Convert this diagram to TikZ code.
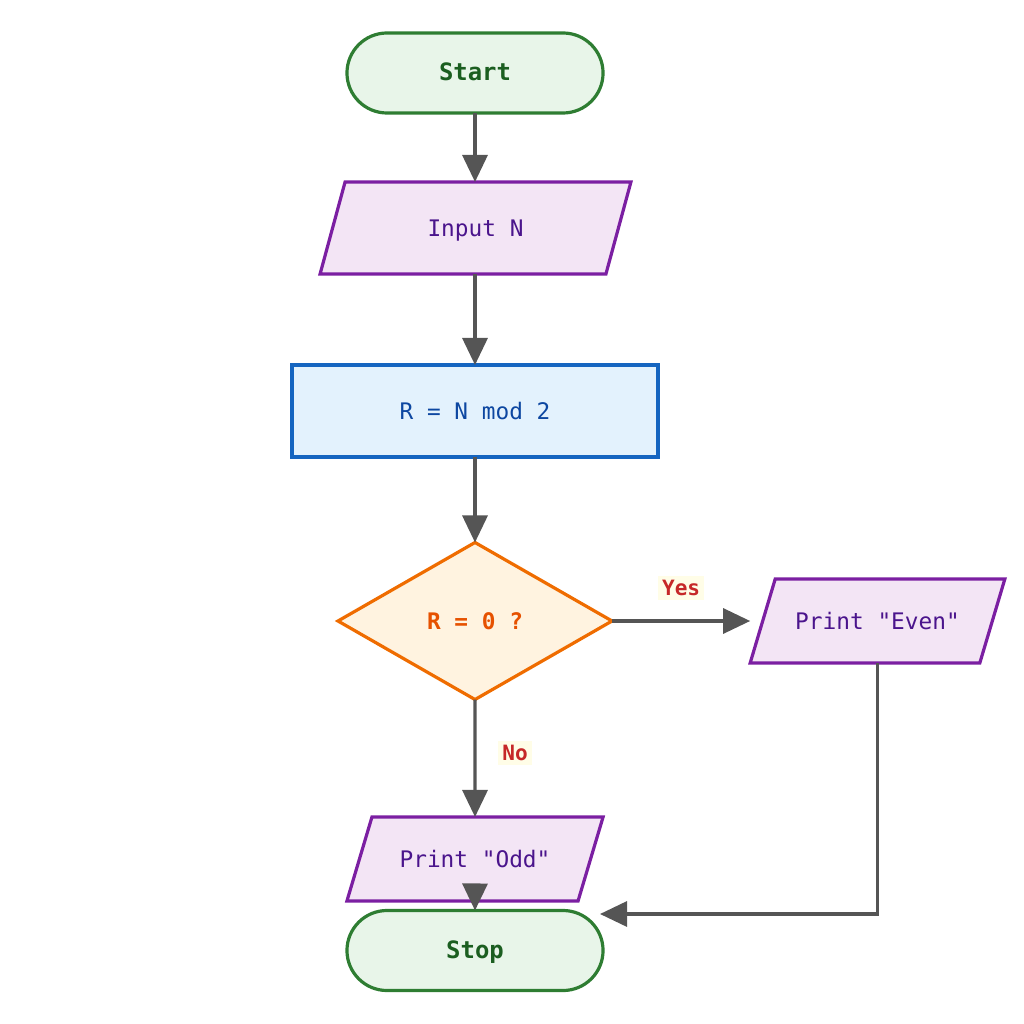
\documentclass[tikz,border=0pt]{standalone}
\usepackage{fontspec}
\setmonofont{DejaVu Sans Mono}
\usepackage{tikz}
\usetikzlibrary{arrows.meta, shapes.geometric, positioning, calc}

\definecolor{termfill}{HTML}{E8F5E9}
\definecolor{termdraw}{HTML}{2E7D32}
\definecolor{termtext}{HTML}{1B5E20}
\definecolor{iofill}{HTML}{F3E5F5}
\definecolor{iodraw}{HTML}{7B1FA2}
\definecolor{iotext}{HTML}{4A148C}
\definecolor{procfill}{HTML}{E3F2FD}
\definecolor{procdraw}{HTML}{1565C0}
\definecolor{proctext}{HTML}{0D47A1}
\definecolor{decfill}{HTML}{FFF3E0}
\definecolor{decdraw}{HTML}{EF6C00}
\definecolor{dectext}{HTML}{E65100}
\definecolor{labfill}{HTML}{FFFDE7}
\definecolor{labtext}{HTML}{C62828}
\definecolor{flowgray}{HTML}{555555}

\begin{document}
\begin{tikzpicture}[x=0.025cm, y=-0.025cm, line width=0.08cm]
  \tikzstyle{term}=[draw=termdraw, fill=termfill, text=termtext, rounded corners=1cm,
    minimum width=6.4cm, minimum height=2cm, outer sep=0pt,
    text height=0.45cm, text depth=0.05cm,
    font=\ttfamily\bfseries\fontsize{17}{20}\selectfont]
  % parallelogram: size set through text box and inner sep, angles kept
  \tikzstyle{io}=[trapezium, draw=iodraw, fill=iofill, text=iotext, outer sep=0pt,
    text height=0.45cm, text depth=0.05cm,
    font=\ttfamily\fontsize{16.2}{19}\selectfont]
  \tikzstyle{proc}=[draw=procdraw, fill=procfill, text=proctext, minimum width=9.15cm,
    minimum height=2.3cm, outer sep=0pt, font=\ttfamily\fontsize{16.2}{19}\selectfont]
  \tikzstyle{dec}=[diamond, draw=decdraw, fill=decfill, text=dectext, minimum width=6.85cm,
    minimum height=3.925cm, inner sep=0pt, outer sep=0pt,
    font=\ttfamily\bfseries\fontsize{16.2}{19}\selectfont]
  \tikzstyle{flow}=[draw=flowgray, -{Triangle[length=0.675cm, width=0.625cm]}]
  \tikzstyle{lab}=[fill=labfill, text=labtext, inner sep=3pt,
    font=\ttfamily\bfseries\fontsize{15}{18}\selectfont]

  % frame
  \useasboundingbox (0,0) rectangle (1024,1024);

  % boxes
  \node[term] (start) at (475,73) {Start};
  \node[io, trapezium left angle=74.8, trapezium right angle=105.2,
    inner xsep=2.06cm, inner ysep=0.9cm] (input) at (475.5,228) {Input N};
  \node[proc] (rem) at (475,411) {R = N mod 2};
  \node[dec] (cond) at (475,621) {R = 0 ?};
  \node[io, trapezium left angle=73.4, trapezium right angle=106.6,
    inner xsep=0.5cm, inner ysep=0.8cm] (even) at (877.5,621) {Print "Even"};
  \node[io, trapezium left angle=73.4, trapezium right angle=106.6,
    inner xsep=0.69cm, inner ysep=0.8cm] (odd) at (475,859) {Print "Odd"};
  \node[term] (stop) at (475,950.5) {Stop};

  % free ends of the lines
  \coordinate (evenin) at (even.bottom left corner |- cond.east);
  \coordinate (stopin) at (600,914);

  % connectors
  \draw[flow] (start) -- (start |- input.north);
  \draw[flow] (input.south -| rem) -- (rem);
  \draw[flow] (rem) -- (cond);
  \draw[flow] (cond.east) -- (evenin);
  \draw[flow] (cond) -- (odd);
  \draw[flow] (odd) -- (stop);
  \draw[flow] (even.south) |- (stopin);

  %% Labels
  \node[lab] (yes) at ($(cond.east)!0.5!(evenin)+(0,-33)$) {Yes};
  \node[lab] (no) at ($(cond.south)!0.5!(odd.north)+(40,-5)$) {No};
\end{tikzpicture}
\end{document}
